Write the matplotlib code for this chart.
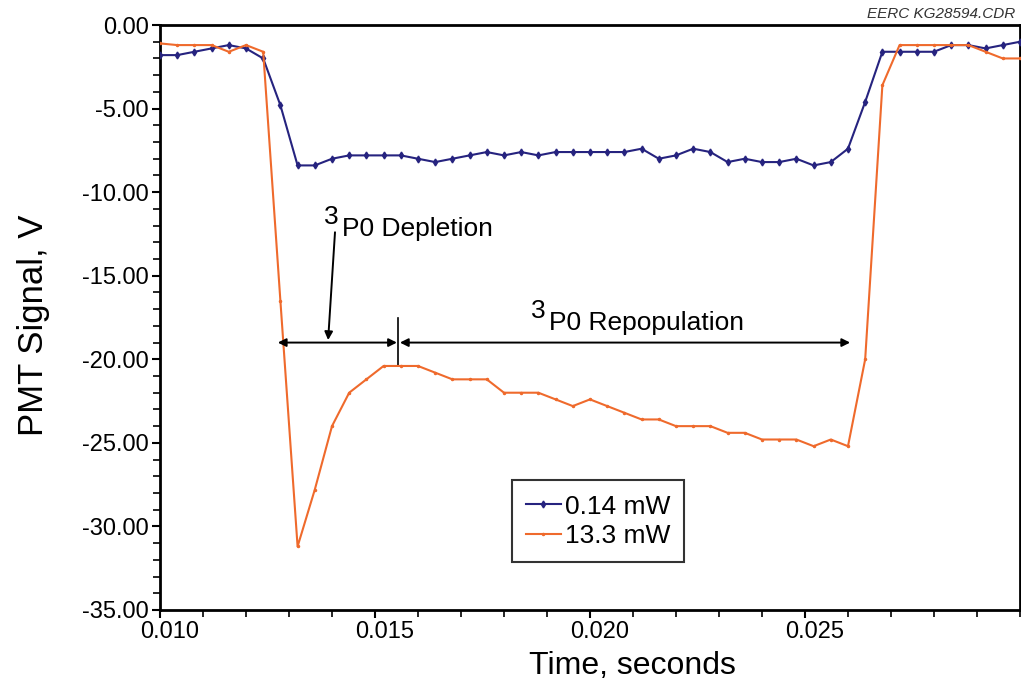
import matplotlib
matplotlib.use("Agg")
import matplotlib.pyplot as plt
import matplotlib.transforms as mtransforms
from matplotlib.ticker import MultipleLocator, FormatStrFormatter

plt.rcParams['font.family'] = ['Liberation Sans', 'DejaVu Sans']

# Data
time_s = [0.0100, 0.0104, 0.0108, 0.0112, 0.0116, 0.0120, 0.0124, 0.0128, 0.0132, 0.0136,
          0.0140, 0.0144, 0.0148, 0.0152, 0.0156, 0.0160, 0.0164, 0.0168, 0.0172, 0.0176,
          0.0180, 0.0184, 0.0188, 0.0192, 0.0196, 0.0200, 0.0204, 0.0208, 0.0212, 0.0216,
          0.0220, 0.0224, 0.0228, 0.0232, 0.0236, 0.0240, 0.0244, 0.0248, 0.0252, 0.0256,
          0.0260, 0.0264, 0.0268, 0.0272, 0.0276, 0.0280, 0.0284, 0.0288, 0.0292, 0.0296,
          0.0300]

signal_014mW = [-1.8, -1.8, -1.6, -1.4, -1.2, -1.4, -2.0, -4.8, -8.4, -8.4,
                -8.0, -7.8, -7.8, -7.8, -7.8, -8.0, -8.2, -8.0, -7.8, -7.6,
                -7.8, -7.6, -7.8, -7.6, -7.6, -7.6, -7.6, -7.6, -7.4, -8.0,
                -7.8, -7.4, -7.6, -8.2, -8.0, -8.2, -8.2, -8.0, -8.4, -8.2,
                -7.4, -4.6, -1.6, -1.6, -1.6, -1.6, -1.2, -1.2, -1.4, -1.2,
                -1.0]

signal_133mW = [-1.1, -1.2, -1.2, -1.2, -1.6, -1.2, -1.6, -16.5, -31.2, -27.8,
                -24.0, -22.0, -21.2, -20.4, -20.4, -20.4, -20.8, -21.2, -21.2, -21.2,
                -22.0, -22.0, -22.0, -22.4, -22.8, -22.4, -22.8, -23.2, -23.6, -23.6,
                -24.0, -24.0, -24.0, -24.4, -24.4, -24.8, -24.8, -24.8, -25.2, -24.8,
                -25.2, -20.0, -3.6, -1.2, -1.2, -1.2, -1.2, -1.2, -1.6, -2.0,
                -2.0]

series_labels = ['0.14 mW', '13.3 mW']
x_ticks = [0.010, 0.015, 0.020, 0.025]

fig = plt.figure(figsize=(10.21, 6.82), dpi=100)
ax = fig.add_axes([0.1567, 0.1056, 0.8423, 0.8577])

ax.plot(time_s, signal_014mW, color='#26237f', lw=1.5, marker='d', ms=3.5,
        label=series_labels[0], zorder=3)
ax.plot(time_s, signal_133mW, color='#ef6a2c', lw=1.5, marker='.', ms=3,
        label=series_labels[1], zorder=3)

ax.set_xlim(0.010, 0.030)
ax.set_ylim(-35, 0)
ax.set_xticks(x_ticks)
ax.xaxis.set_major_formatter(FormatStrFormatter('%.3f'))
ax.xaxis.set_minor_locator(MultipleLocator(0.001))
ax.yaxis.set_major_locator(MultipleLocator(5))
ax.yaxis.set_minor_locator(MultipleLocator(1))
ax.yaxis.set_major_formatter(FormatStrFormatter('%.2f'))

for sp in ax.spines.values():
    sp.set_linewidth(2.0)
ax.tick_params(which='major', direction='out', length=6, width=1.5, labelsize=17, pad=2)
ax.tick_params(which='minor', direction='out', length=5, width=1.2)

# x tick labels sit slightly right of their ticks in the reference
offset = mtransforms.ScaledTranslation(10 / 100, 0, fig.dpi_scale_trans)
for lbl in ax.get_xticklabels():
    lbl.set_transform(lbl.get_transform() + offset)

ax.set_xlabel('Time, seconds', fontsize=23)
ax.xaxis.set_label_coords(0.549, -0.07)
ax.set_ylabel('PMT Signal, V', fontsize=25)
ax.yaxis.set_label_coords(-0.128, 0.487)

# Annotations
arrow_y = -19.0
ax.annotate('', xy=(0.01274, arrow_y), xytext=(0.01551, arrow_y),
            arrowprops=dict(arrowstyle='<|-|>', color='black', lw=1.4,
                            mutation_scale=12, shrinkA=0, shrinkB=0))
ax.annotate('', xy=(0.01558, arrow_y), xytext=(0.02605, arrow_y),
            arrowprops=dict(arrowstyle='<|-|>', color='black', lw=1.4,
                            mutation_scale=12, shrinkA=0, shrinkB=0))
ax.plot([0.01553, 0.01553], [-17.5, -20.4], color='black', lw=1.2)
ax.annotate('', xy=(0.01391, -18.85), xytext=(0.01407, -12.4),
            arrowprops=dict(arrowstyle='-|>', color='black', lw=1.4,
                            mutation_scale=12, shrinkA=0, shrinkB=0))

ax.text(0.01398, -11.5, '3', fontsize=19, ha='center', va='center')
ax.text(0.01424, -12.2, 'P0 Depletion', fontsize=19, ha='left', va='center')
ax.text(0.01879, -17.1, '3', fontsize=19, ha='center', va='center')
ax.text(0.01905, -17.8, 'P0 Repopulation', fontsize=19, ha='left', va='center')

leg = ax.legend(loc='upper left', bbox_to_anchor=(0.409, 0.222), borderaxespad=0,
                fontsize=19, frameon=True, fancybox=False, edgecolor='black',
                handlelength=1.3, handletextpad=0.15, borderpad=0.55, labelspacing=0.2)
leg.get_frame().set_linewidth(1.5)

fig.text(0.994, 0.99, 'EERC KG28594.CDR', ha='right', va='top', fontsize=11,
         style='italic', color='#333333')

fig.savefig('out.png', dpi=100)
